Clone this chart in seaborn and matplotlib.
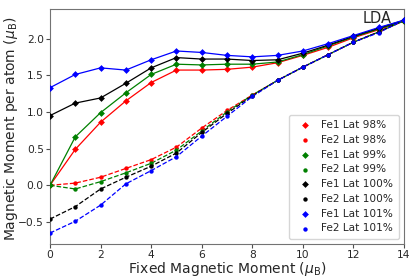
import pandas as pd
import seaborn as sns
import matplotlib
matplotlib.use('Agg')
import matplotlib.pyplot as plt

# fixed moment (x) and per-atom moments
fixed = list(range(15))
lattices = ['98%', '99%', '100%', '101%']
colors = ['red', 'green', 'black', 'blue']

fe1_98 = [0.00, 0.49, 0.86, 1.15, 1.40, 1.57, 1.57, 1.58, 1.61, 1.67, 1.77, 1.88, 2.01, 2.12, 2.24]
fe1_99 = [0.00, 0.66, 0.99, 1.26, 1.51, 1.65, 1.64, 1.65, 1.65, 1.68, 1.78, 1.90, 2.02, 2.13, 2.24]
fe1_100 = [0.95, 1.12, 1.19, 1.39, 1.60, 1.74, 1.72, 1.72, 1.70, 1.71, 1.80, 1.91, 2.03, 2.14, 2.25]
fe1_101 = [1.33, 1.51, 1.60, 1.57, 1.71, 1.83, 1.81, 1.77, 1.75, 1.77, 1.83, 1.93, 2.04, 2.15, 2.25]

fe2_98 = [0.00, 0.03, 0.11, 0.23, 0.35, 0.52, 0.78, 1.02, 1.23, 1.43, 1.61, 1.78, 1.95, 2.09, 2.24]
fe2_99 = [0.00, -0.05, 0.05, 0.17, 0.30, 0.48, 0.74, 1.00, 1.23, 1.43, 1.61, 1.78, 1.95, 2.09, 2.24]
fe2_100 = [-0.46, -0.29, -0.05, 0.11, 0.26, 0.44, 0.72, 0.98, 1.22, 1.43, 1.61, 1.78, 1.95, 2.09, 2.25]
fe2_101 = [-0.65, -0.49, -0.27, 0.02, 0.20, 0.39, 0.67, 0.94, 1.21, 1.43, 1.61, 1.78, 1.95, 2.08, 2.25]

fe1 = [fe1_98, fe1_99, fe1_100, fe1_101]
fe2 = [fe2_98, fe2_99, fe2_100, fe2_101]

sns.set_style('ticks')
plt.rcParams['axes.edgecolor'] = '0.45'

fig, ax = plt.subplots(figsize=(4.15, 2.77), dpi=100)
fig.subplots_adjust(left=0.1205, right=0.9735, top=0.967, bottom=0.119)

for lat, c, m1, m2 in zip(lattices, colors, fe1, fe2):
    d1 = pd.DataFrame({'x': fixed, 'y': m1})
    d2 = pd.DataFrame({'x': fixed, 'y': m2})
    sns.lineplot(data=d1, x='x', y='y', color=c, lw=0.9, ax=ax, legend=False)
    sns.lineplot(data=d2, x='x', y='y', color=c, lw=0.9, ls='--', ax=ax, legend=False)
    sns.scatterplot(data=d1, x='x', y='y', color=c, marker='D', s=12, linewidth=0,
                    ax=ax, label='Fe1 Lat ' + lat, zorder=3)
    sns.scatterplot(data=d2, x='x', y='y', color=c, marker='o', s=10, linewidth=0,
                    ax=ax, label='Fe2 Lat ' + lat, zorder=3)

ax.set_xlim(0, 14)
ax.set_ylim(-0.8, 2.4)
ax.set_xticks(range(0, 15, 2))
ax.set_yticks([-0.5, 0.0, 0.5, 1.0, 1.5, 2.0])
ax.tick_params(labelsize=7.7, length=3, color='0.3', pad=1.5)
ax.set_xlabel(r'Fixed Magnetic Moment ($\mu_\mathrm{B}$)', fontsize=10)
ax.xaxis.set_label_coords(0.5, -0.07)
ax.set_ylabel(r'Magnetic Moment per atom ($\mu_\mathrm{B}$)', fontsize=10)
ax.yaxis.set_label_coords(-0.086, 0.49)
ax.text(0.966, 0.99, 'LDA', transform=ax.transAxes, ha='right', va='top', fontsize=10.5)
ax.legend(loc='lower right', fontsize=7.6, handletextpad=0.6, borderpad=0.5,
          labelspacing=0.45, framealpha=0.8)

plt.savefig('out.png', dpi=100)
